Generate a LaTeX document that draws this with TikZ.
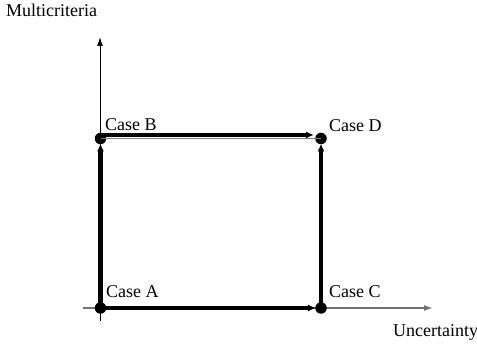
\documentclass[tikz,border=0pt]{standalone}
\usepackage{fontspec}
\setmainfont{Liberation Serif}
\usetikzlibrary{arrows.meta}
\begin{document}
\begin{tikzpicture}[x=1pt,y=-1pt,
  lbl/.style={font=\fontsize{18}{21}\selectfont, inner sep=0pt, anchor=base west},
  dot/.style={circle, fill=black, minimum size=11.5pt, inner sep=0pt},
  thick arrow/.style={line width=4.5pt, -{Latex[length=8pt,width=7pt]}, shorten >=5pt},
  axis/.style={-{Latex[length=9pt,width=6pt]}}]
\useasboundingbox (0,0) rectangle (477,344);
% axes
\coordinate (vs) at (100,321);
\coordinate (ve) at (100,37);
\coordinate (hs) at (83,308);
\coordinate (he) at (433,308);
\draw[axis, line width=1pt] (vs) -- (ve);
\draw[axis, line width=1.5pt, draw=gray!90!black, fill=black] (hs) -- (he);
% points
\node[dot] (A) at (100.5,308) {};
\node[dot] (B) at (100.5,138.5) {};
\node[dot] (C) at (321,308) {};
\node[dot] (D) at (321,138.5) {};
% edges
\draw[line width=1.8pt, gray] (B.center) -- (D.center);
\draw[thick arrow] ([yshift=3.5pt]B.center) -- ([yshift=3.5pt,xshift=-2pt]D.center);
\draw[thick arrow] (A.center) -- (B.center);
\draw[thick arrow] (A.center) -- (C.center);
\draw[thick arrow] (C.center) -- (D.center);
% labels
\node[lbl] (mc) at (6,17) {Multicriteria};
\node[lbl] (un) at (393,337) {Uncertainty};
\node[lbl] (la) at (106,298) {Case A};
\node[lbl] (lb) at (105,130.5) {Case B};
\node[lbl] (lc) at (329,298) {Case C};
\node[lbl] (ld) at (329,132) {Case D};
\end{tikzpicture}
\end{document}
